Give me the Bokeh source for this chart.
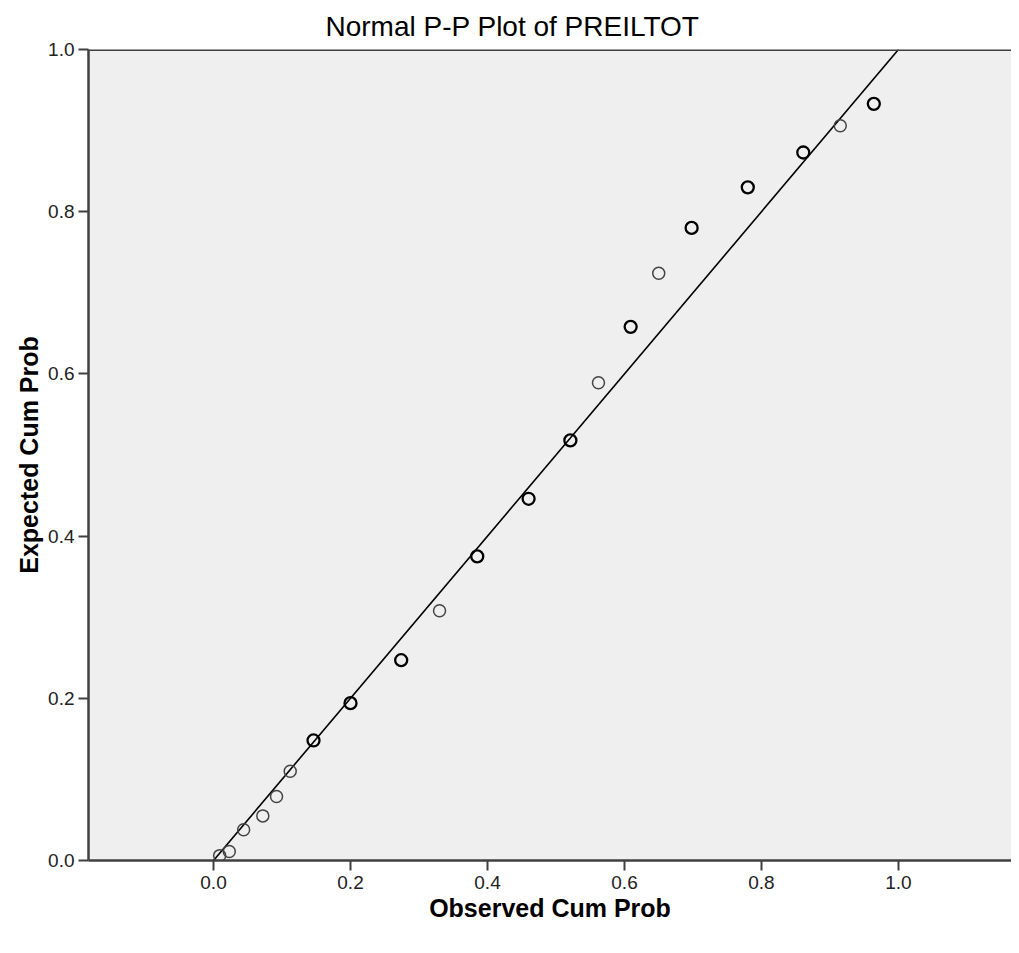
from bokeh.plotting import figure
from bokeh.models import Range1d, FixedTicker, Span, Title, NumeralTickFormatter
from bokeh.embed import file_html
from bokeh.resources import INLINE

# Observed vs expected cumulative probabilities
obs_bold = [0.146, 0.200, 0.274, 0.385, 0.460, 0.521, 0.609, 0.698, 0.780, 0.861, 0.964]
exp_bold = [0.148, 0.194, 0.247, 0.375, 0.446, 0.518, 0.658, 0.780, 0.830, 0.873, 0.933]
obs_thin = [0.009, 0.023, 0.044, 0.072, 0.092, 0.112, 0.330, 0.562, 0.650, 0.915]
exp_thin = [0.006, 0.011, 0.038, 0.055, 0.079, 0.110, 0.308, 0.589, 0.724, 0.906]
ref_x = [0.0, 1.0]
ref_y = [0.0, 1.0]
ticks = [0.0, 0.2, 0.4, 0.6, 0.8, 1.0]

FONT = "Liberation Sans"
AX = "#404040"

p = figure(width=1011, height=945, output_backend="svg", toolbar_location=None,
           x_range=Range1d(-0.1825, 1.165), y_range=Range1d(0, 1),
           min_border_left=88, min_border_right=0, min_border_top=49, min_border_bottom=85)
p.title = Title(text="Normal P-P Plot of PREILTOT", align="left", offset=237,
                text_font=FONT, text_font_size="28px", text_font_style="normal",
                text_color="#000000", standoff=15)
p.border_fill_color = "white"
p.outline_line_color = None
p.background_fill_color = "#efefef"
p.grid.visible = False

for ax in (p.xaxis[0], p.yaxis[0]):
    ax.ticker = FixedTicker(ticks=ticks)
    ax.formatter = NumeralTickFormatter(format="0.0")
    ax.axis_line_color = AX
    ax.axis_line_width = 2.5
    ax.major_tick_line_color = AX
    ax.major_tick_line_width = 2
    ax.major_tick_out = 10
    ax.major_tick_in = 0
    ax.minor_tick_line_color = None
    ax.major_label_text_font = FONT
    ax.major_label_text_font_size = "19px"
    ax.major_label_text_color = "#222222"
    ax.axis_label_text_font = FONT
    ax.axis_label_text_font_size = "25px"
    ax.axis_label_text_font_style = "bold"
    ax.axis_label_text_color = "#000000"

p.xaxis.axis_label = "Observed Cum Prob"
p.yaxis.axis_label = "Expected Cum Prob"
p.xaxis.major_label_standoff = 5
p.yaxis.major_label_standoff = 4
p.xaxis.axis_label_standoff = 2
p.yaxis.axis_label_standoff = 2

p.add_layout(Span(location=1.0, dimension="width", line_color=AX, line_width=3))

p.line(ref_x, ref_y, line_color="black", line_width=1.6)
p.scatter(obs_thin, exp_thin, marker="circle", size=12, fill_color=None,
          line_color="#444444", line_width=1.5)
p.scatter(obs_bold, exp_bold, marker="circle", size=12, fill_color=None,
          line_color="black", line_width=2.3)

open("out.html", "w").write(file_html(p, INLINE))
